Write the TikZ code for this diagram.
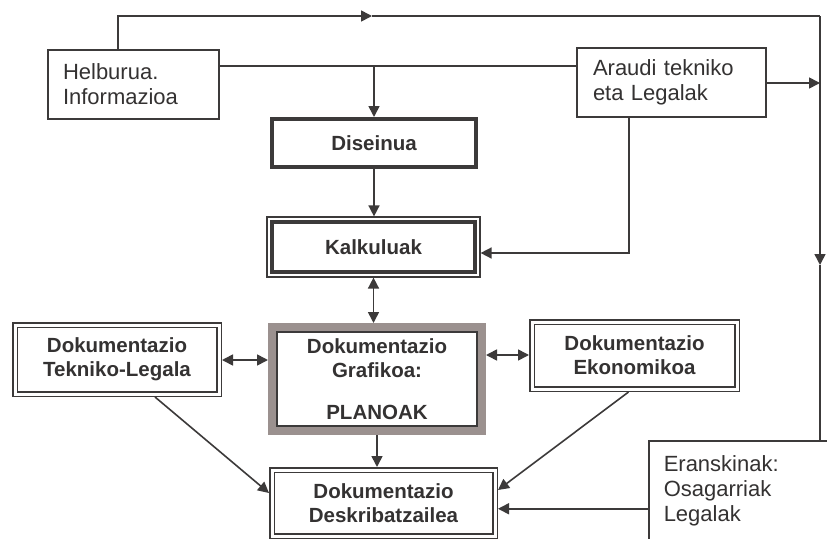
\documentclass[tikz,border=0pt]{standalone}
\usepackage{fontspec}
\setmainfont{Liberation Sans}
\usetikzlibrary{arrows.meta,calc}
\definecolor{ink}{RGB}{60,58,58}
\definecolor{txt}{RGB}{52,50,50}
\definecolor{shade}{RGB}{155,145,143}
\tikzset{
  tipshape/.tip={Triangle[length=11pt,width=11pt]},
  conn/.style={draw=ink, line width=1.6pt},
  arr/.style={conn, -tipshape},
  biarr/.style={conn, tipshape-tipshape},
  plainbox/.style={draw=ink, line width=1.5pt, inner ysep=0pt, text=txt,
    align=left, font=\fontsize{22}{25}\selectfont},
  boldtext/.style={text=txt, align=center, inner sep=0pt,
    font=\bfseries\fontsize{20.5}{24}\selectfont},
  thickbox/.style={boldtext, draw=ink, line width=4pt},
  dblbox/.style={boldtext, draw=ink, line width=1.4pt, double=white,
    double distance=3pt, outer sep=3pt},
  outerthin/.style={boldtext, draw=ink, line width=1.2pt},
  grayband/.style={boldtext, draw=shade, line width=8pt},
}
\begin{document}
\begin{tikzpicture}[x=1pt,y=-1pt]
\useasboundingbox (0,0) rectangle (827,538);
\clip (0,0) rectangle (827,538);
\fill[white] (0,0) rectangle (827,538);

% boxes
\node[plainbox, inner xsep=15pt, text width=141pt, minimum width=171pt, minimum height=69pt]
  (helb) at (133.5,84.5) {Helburua.\\Informazioa};
\node[plainbox, inner xsep=16pt, text width=157pt, minimum width=189pt, minimum height=69pt]
  (araudi) at (671.5,82.5) {Araudi tekniko\\eta Legalak};
\node[thickbox, minimum width=204pt, minimum height=48pt] (dis) at (374,143) {Diseinua};
\node[outerthin, minimum width=213pt, minimum height=60pt] (kalk) at (373.5,247) {Kalkuluak};
\draw[draw=ink, line width=4pt] ($(kalk.north west)+(5.5,5.5)$) rectangle ($(kalk.south east)+(-5.5,-5.5)$);
\node[grayband, minimum width=210pt, minimum height=104pt] (plan) at (377,379)
  {Dokumentazio\\Grafikoa:\\[18pt]PLANOAK};
\draw[draw=ink, line width=2pt] ($(plan.north west)+(9,9)$) rectangle ($(plan.south east)+(-9,-9)$);
\node[dblbox, minimum width=204pt, minimum height=69pt] (tek) at (117,359.5)
  {Dokumentazio\\Tekniko-Legala};
\node[dblbox, minimum width=205pt, minimum height=67pt] (eko) at (634.5,355.5)
  {Dokumentazio\\Ekonomikoa};
\node[dblbox, minimum width=223pt, minimum height=66pt] (desk) at (383.5,503)
  {Dokumentazio\\Deskribatzailea};
\node[plainbox, inner xsep=15pt, text width=190pt, minimum width=220pt, minimum height=101pt,
  anchor=north west] (eran) at (648,440) {Eranskinak:\\Osagarriak\\Legalak};

% helper coordinates
\coordinate (tr) at (820,16);
\coordinate (m1) at (372,16);
\coordinate (m2) at (820,265);
\coordinate (t1) at ($(helb.north)+(-15.5,0)$);
\coordinate (h1) at ($(helb.north east)+(0,17)$);
\coordinate (a1) at ($(araudi.east)+(0,0.5)$);
\coordinate (a2) at ($(araudi.south)+(-42.5,0)$);
\coordinate (k1) at ($(kalk.east)+(0,6)$);
\coordinate (e1) at ($(eran.west)+(0,17.5)$);
\coordinate (tk) at ($(tek.east)+(0,0.5)$);
\coordinate (ek) at ($(eko.west)+(0,-0.5)$);
\coordinate (tb) at ($(tek.south)+(38,0)$);
\coordinate (eb) at ($(eko.south)+(-6,0)$);
\coordinate (dw) at ($(desk.west)+(0,-10)$);
\coordinate (de) at ($(desk.east)+(0,-13)$);

% connectors
\draw[arr] (t1) |- (m1);
\draw[conn] (m1) -- (tr);
\draw[arr] (tr) -- (m2);
\draw[conn] (m2) -- (m2 |- eran.north);
\draw[conn] (h1) -- (h1 -| araudi.west);
\draw[arr] (h1 -| dis.north) -- (dis.north);
\draw[arr] (a1) -- (a1 -| tr);
\draw[arr] (a2) |- (k1);
\draw[arr] (dis.south) -- (dis.south |- kalk.north);
\draw[biarr] (kalk.south) -- (kalk.south |- plan.north);
\draw[biarr] (tk) -- (tk -| plan.west);
\draw[biarr] (ek) -- (ek -| plan.east);
\draw[arr] (plan.south) -- (plan.south |- desk.north);
\draw[arr] (tb) -- (dw);
\draw[arr] (eb) -- (de);
\draw[arr] (e1) -- (e1 -| desk.east);
\end{tikzpicture}
\end{document}
